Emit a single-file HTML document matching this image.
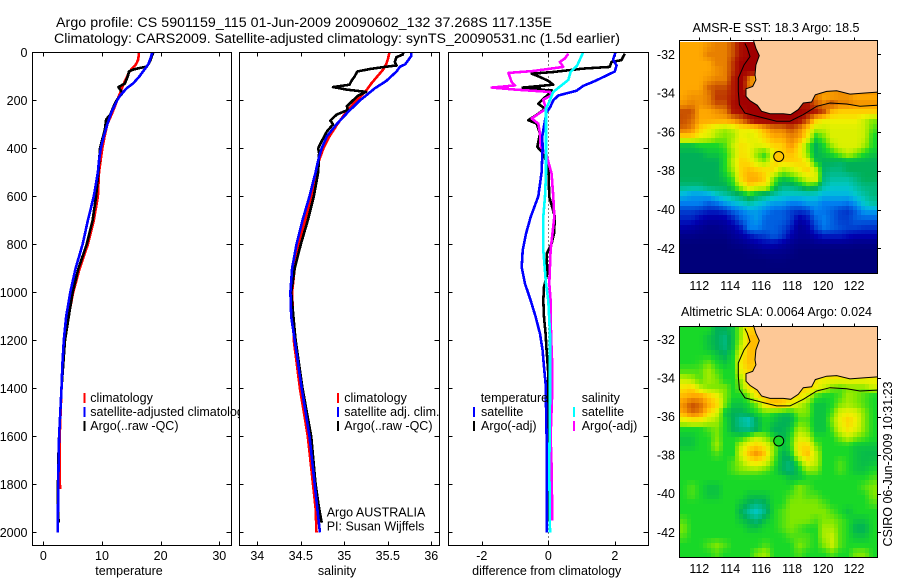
<!DOCTYPE html>
<html lang="en">
<head>
<meta charset="utf-8">
<title>Argo profile CS 5901159_115</title>
<style>
html,body{margin:0;padding:0;background:#fff;width:900px;height:580px;overflow:hidden}
svg{display:block}
text{font-family:"Liberation Sans",sans-serif;font-size:12.5px;fill:#000}
.t{font-size:14.2px}
</style>
</head>
<body>
<svg id="fig" xmlns="http://www.w3.org/2000/svg" width="900" height="580" viewBox="0 0 900 580">
<rect width="900" height="580" fill="#fff"/>
<g id="panels"></g>
<g id="maps"></g>
<text class="t" x="56" y="27" textLength="496">Argo profile: CS 5901159_115 01-Jun-2009 20090602_132 37.268S 117.135E</text>
<text class="t" x="54" y="43" textLength="566">Climatology: CARS2009. Satellite-adjusted climatology: synTS_20090531.nc (1.5d earlier)</text>
<text x="776" y="32" text-anchor="middle" textLength="167">AMSR-E SST: 18.3 Argo: 18.5</text>
<text x="776.5" y="316" text-anchor="middle" textLength="191">Altimetric SLA: 0.0064 Argo: 0.024</text>
<text transform="translate(892,464) rotate(-90)" text-anchor="middle" textLength="165">CSIRO 06-Jun-2009 10:31:23</text>
</svg>
<script>
// ---------- axis ticks ----------
const depthTicks = [0,200,400,600,800,1000,1200,1400,1600,1800,2000];
const tempTicks = [0,10,20,30];
const salTicks = [34,34.5,35,35.5,36];
const diffTicks = [-2,0,2];
const lonTicks = [112,114,116,118,120,122];
const latTicks = [-32,-34,-36,-38,-40,-42];

// ---------- temperature panel ----------
const climTempDepth = [0,30,50,80,120,150,200,250,300,350,400,500,600,700,800,900,1000,1100,1200,1400,1600,1700,1820];
const climTemp = [16.3,16.2,15.8,14.7,13.9,13.4,12.6,11.8,10.9,10.45,10.05,9.5,9.3,8.6,7.6,6.2,5.1,4.3,3.7,3.1,2.8,2.8,2.85];
const satTempDepth = [0,30,50,70,100,130,150,180,200,250,300,350,400,450,500,600,700,800,900,1000,1100,1200,1300,1400,1500,1600,1700,1800,1900,2000];
const satTemp = [18.6,18.2,17.9,17.3,16.4,15.3,14.2,13.1,12.6,11.6,10.9,10.3,9.8,9.5,9.3,8.6,7.6,6.7,5.5,4.6,3.9,3.5,3.25,3.1,2.9,2.7,2.6,2.55,2.5,2.45];
const argoTempDepth = [0,30,50,60,65,72,80,100,130,145,155,170,190,200,230,260,280,320,350,400,500,600,700,800,900,1000,1200,1400,1600,1700,1800,1900,1960];
const argoTemp = [18.75,18.3,17.9,17.6,16.5,15.3,14.6,14.4,13.9,12.8,13.07,13.5,12.8,12.5,11.9,11.4,10.7,10.5,10.2,9.66,9.4,9.0,8.4,7.4,6.0,5.0,3.7,3.1,2.7,2.55,2.5,2.5,2.6];

// ---------- salinity panel ----------
const climSalDepth = [0,30,50,70,100,130,160,200,250,300,350,400,450,500,600,700,800,900,1000,1100,1200,1400,1600,1800,1900,2000];
const climSal = [35.52,35.5,35.48,35.45,35.38,35.31,35.25,35.14,35.02,34.92,34.83,34.76,34.71,34.68,34.62,34.55,34.48,34.43,34.4,34.41,34.42,34.49,34.58,34.64,34.67,34.68];
const satSalDepth = [0,15,30,50,60,80,100,120,150,180,200,250,300,350,400,450,500,600,700,800,900,1000,1100,1200,1400,1600,1800,1900,2000];
const satSal = [35.77,35.77,35.74,35.7,35.64,35.6,35.54,35.48,35.35,35.25,35.18,35.04,34.91,34.8,34.74,34.7,34.67,34.6,34.52,34.45,34.4,34.38,34.39,34.43,34.51,34.6,34.66,34.69,34.72];
const argoSalDepth = [0,10,20,40,55,60,70,80,100,120,135,145,150,155,165,180,200,225,240,260,285,300,330,370,400,420,500,600,700,800,900,1000,1200,1400,1600,1800,1900,1960];
const argoSal = [35.68,35.67,35.6,35.58,35.6,35.48,35.29,35.15,35.12,35.08,35.06,34.87,34.95,35.02,35.25,35.16,35.1,35.03,35.04,34.91,34.84,34.87,34.8,34.74,34.7,34.71,34.7,34.65,34.58,34.5,34.43,34.39,34.44,34.52,34.62,34.67,34.71,34.74];

// ---------- difference panel ----------
const dSatTempDepth = [0,30,55,80,100,120,140,160,180,200,230,250,300,350,400,500,600,686,756,825,895,964,1034,1103,1173,1242,1311,1381,1600,2000];
const dSatTemp = [2.02,1.95,2.05,2.0,1.7,1.4,1.05,0.85,0.3,0.15,0.05,-0.05,-0.12,-0.18,-0.17,-0.2,-0.3,-0.53,-0.67,-0.77,-0.8,-0.7,-0.53,-0.38,-0.25,-0.17,-0.13,-0.08,-0.05,-0.05];
const dSatSalDepth = [0,55,82,115,143,165,206,234,300,505,600,686,825,964,1034,1173,1450,1728,2000];
const dSatSal = [1.05,0.87,0.67,0.6,0.35,0.15,0.03,-0.07,-0.07,-0.07,-0.1,-0.15,-0.15,-0.07,0,0.05,0.05,0.03,0.05];
const dArgoTempDepth = [6,33,40,61,68,82,89,103,119,135,147,149,156,158,169,200,214,235,256,283,297,339,394,422,478,603,686,756,797,839,922,978,1034,1103,1173,1242,1339,1450,1728,1950];
const dArgoTemp = [2.3,2.2,1.9,1.85,1.05,0.15,-0.5,-0.25,0,0.15,-0.77,-0.25,-0.55,0.1,0.05,-0.2,-0.3,-0.1,-0.3,-0.6,-0.35,-0.25,-0.33,-0.15,0,0.03,0.2,0.17,0.1,-0.05,-0.03,-0.13,-0.15,-0.13,-0.08,-0.05,0,-0.03,-0.03,-0.03];
const dArgoSalDepth = [6,26,40,61,78,86,124,138,147,156,165,179,197,235,276,297,339,394,429,506,603,686,825,964,1034,1173,1311,1408,1600,1728,1950];
const dArgoSal = [0.6,0.5,0.35,0.45,-0.45,-1.2,-1.1,-1,-1.7,-0.95,0.05,0.1,-0.15,-0.07,-0.5,-0.3,-0.25,-0.23,-0.05,0.1,0.15,0.18,0.07,0.03,0.07,0.08,0.12,0.12,0.07,0.1,0.12];

// ---------- map coastline (lon, lat) ----------
const coastLon = [115.49,115.66,115.88,115.66,115.6,115.66,115.45,115.02,115.02,115.28,115.75,116.03,116.57,117.43,117.91,118.4,118.72,119.26,119.5,120.23,120.88,121.74,122.6,123.51];
const coastLat = [-31.26,-31.69,-32.07,-32.55,-33.06,-33.32,-33.66,-33.78,-34.17,-34.39,-34.63,-34.94,-35.06,-35.06,-35.11,-34.85,-34.51,-34.46,-34.09,-33.91,-33.88,-34.05,-34,-33.95];
const shelfLon = [114.95,115.1,115.28,114.89,114.52,114.52,114.59,114.95,116.14,117,117.86,118.72,119.59,120.45,121.53,122.39,123.51];
const shelfLat = [-31.44,-31.69,-32.12,-32.55,-33.23,-33.91,-34.6,-35.03,-35.28,-35.45,-35.45,-35.11,-34.68,-34.51,-34.56,-34.68,-34.63];
const floatLon = [117.135];
const floatLat = [-37.268];
const floatSstLevel = [11.3];
const floatSlaLevel = [7];

// ---------- heatmap levels, 24 columns by 28 rows ----------
const N = null;
const sstLevels = [
[12,12,12,12.5,13,13,14,15.5,16,16,N,N,N,N,N,N,N,N,N,N,N,N,N,N],
[12,12,12,13,13,13,14,15.5,16,16,N,N,N,N,N,N,N,N,N,N,N,N,N,N],
[12,12,12,12,13,13,14.5,16,16,16,N,N,N,N,N,N,N,N,N,N,N,N,N,N],
[12,12,12,12,12.5,13,14.5,16,16,16,N,N,N,N,N,N,N,N,N,N,N,N,N,N],
[12,12,12,12.5,13,13,15,16,13,11,N,N,N,N,N,N,N,N,N,N,N,N,N,N],
[12,12,12,13.5,14,14,15,16,13,N,N,N,N,N,N,N,N,N,N,N,N,N,N,N],
[12,12.5,12.5,13,14.5,14.5,15,16,16,N,N,N,N,N,N,N,13,12,12,12.5,12.5,12,12,12],
[12.5,13,12.5,13,14,14,15.5,16,16,16,N,N,N,N,15,15,14,13,14,13,13,12.5,12.5,12.5],
[14,14,12,12,12.5,13,15,15.5,16,16,16,16,16,16,16,15.5,15,14,11.5,11,11,11,11,11],
[14,13.5,12,12,12,12,12.5,13.5,15,16,16,16,16,16,15.5,14,11,10,10,10,10,10,9,8],
[13.5,13,11,10,9,8.5,9,10,10,10.5,12,13,13,14,13,11,9,9,9.5,9.5,9.5,9.5,9,7.5],
[11,11,10,9.5,8.5,8,8.5,10,9.5,10,11,12,12,13,12.5,10.5,7,8,9.5,9.5,9.5,9.5,9,7],
[6.5,6.5,7,7,7,7.5,9,10.5,10,9.5,10,11,11,12.5,11,8,6,7,8.5,9.5,9.5,9.5,8.5,7],
[6,6,6,6.5,6.5,7,8.5,10.5,10,8,7,10,11,11.5,10.5,8,6,6.5,7,8,9,8,7,6.5],
[6,6,6,6,6,7,9,11,10.5,9,8,11,11,11,11,10,6.5,6,6,5.8,6,6,6,6],
[6,6,6,6,6,7,8.5,11,11.5,11,10.5,10.5,8.5,9,10,11,9,5.8,5.5,5.5,6,6,6,6],
[6,6,6,6,6,6.5,7.5,11,12,12,11,8,6.5,7,8,9.5,10,5.5,5,5,5,5.5,6,6],
[5.5,5.5,5.5,6,6,6,7,9,11,10,10,7,5.5,5.5,6,7,6.5,5,4.5,4.5,4.5,5,5.5,5.5],
[4,3.5,3.5,3.7,4.5,5,5.5,6,7,6,5.5,5,4.5,4.5,4.5,4.5,4.5,4,4,4,4,4.5,5,5.5],
[3,3,3,2.5,2.8,3.5,4,4.5,5,4.5,4,3.5,3.5,3,3,3.5,3.5,3,3,3,2.8,3.5,4.5,5],
[2,2,1.8,1.5,1.5,1.8,2.5,3,3.5,3.5,3,2.5,2.5,2,1.8,2,3,2.8,2.5,2,1.8,2.5,3.5,3.5],
[1.5,1.5,1,0.7,0.7,0.8,1.5,2.5,3,3.5,2.5,2.5,2.5,2,0.8,1.2,2.5,3,2.5,2,2,2.5,2.5,2.5],
[0.8,0.7,0.5,0.3,0.3,0.5,0.8,1.5,3,3,2.5,2.5,2.2,1.5,0.5,0.7,2,2.8,2.5,2.2,2,2,1.8,1.8],
[0.3,0.3,0.2,0.2,0.2,0.2,0.5,0.8,1.3,1.8,2,2.5,2,1,0.5,0.5,1,1.5,1.5,1.5,1.2,1,1,1],
[0,0,0,0,0,0,0.2,0.3,0.5,0.7,1,1,0.7,0.4,0.2,0.2,0.3,0.3,0.3,0.3,0.3,0.2,0.2,0.2],
[0,0,0,0,0,0,0,0,0.1,0.2,0.3,0.3,0.3,0.2,0,0,0,0,0,0,0,0,0,0],
[0,0,0,0,0,0,0,0,0,0,0,0.1,0.1,0,0,0,0,0,0,0,0,0,0,0],
[0,0,0,0,0,0,0,0,0,0,0,0,0,0,0,0,0,0,0,0,0,0,0,0]
];
const slaLevels = [
[7,7,7,7,6,6,6.5,8.5,11,11,N,N,N,N,N,N,N,N,N,N,N,N,N,N],
[7,7,7,6.5,6,5.5,6.5,8.5,11.5,11.5,N,N,N,N,N,N,N,N,N,N,N,N,N,N],
[7,7,7,6.5,6,5.5,6.5,9,11.5,11.5,N,N,N,N,N,N,N,N,N,N,N,N,N,N],
[7,7,7,7,6.5,6,7,10,11.5,11.5,N,N,N,N,N,N,N,N,N,N,N,N,N,N],
[7,7,7.2,7.8,7,6.5,7,10.5,11.5,11,N,N,N,N,N,N,N,N,N,N,N,N,N,N],
[7.5,7.5,7.5,8.5,7.5,7,7,10,11,N,N,N,N,N,N,N,N,N,N,N,N,N,N,N],
[9,8.5,7.5,8.5,8,7,7,8.5,11,11,N,N,N,N,N,N,10.5,10,10,10,10,10,10,10],
[10.5,11,9,8,8,8,7,8,10.5,11,11,N,N,N,11,11,10,9,8,7.5,8,8,8,9],
[11.5,12,12,11,10,8,7,7,8,10.5,11.5,11.5,11,11,10.5,9.5,7.5,7,7,7.5,8.5,8,7.5,7],
[12.5,14,13.5,12,11,8,6.5,6.5,7,8,10.5,11.5,11.5,10,9,8,6.5,6.5,7,8,8.5,8,7.5,7],
[12,13.5,13,11,9.5,6.5,6,6,6.5,7,7.5,7,6.5,6.5,8,8,6.5,6.5,7.5,9.5,10,9.5,8,7],
[9.5,10,10,9,8.5,7,6,5,4.5,6,7,6.5,6,6,7.5,7.5,6.5,6.5,8,10,11,10,8,7],
[7,7,7,7.5,8,7,6,5.5,5.3,6,7,6,6,6.5,8.5,8,6.5,6.5,7.5,9.5,10.5,9.5,8,7],
[6.5,6.5,7,7,8,7,7,7,8,9,8,7,6,7,9.5,9,7,7,7,8,9,8,7.5,7],
[6.5,6.5,7,7,8.5,7,7,9,10.5,11,10,8,6.5,7,10.5,11,8,7,7,7,7,6.5,6.5,6.5],
[7,7,7,7,7.5,7,7,9.5,11.5,12.5,11,8,6,6.5,10,11.5,9,7,7,7,7,6.5,6.3,6.3],
[7,7,7,7,7,7,7.5,8.5,10,10.5,9.5,7.5,6,5.5,7.5,10,9,7,7,7.5,7,6.5,6.3,6.5],
[7,7,7,7,7,7,7.5,8,8,8,7.5,7,6,5.5,6.5,8,8,7,7,7.5,7,6.5,6.5,7],
[7,7,7,7,7,7,7,7,7,7,7,7,7,6.5,6.5,7,7,7,7,7,7,7,7,7.5],
[7,7.5,7,6.5,6.5,7,7,7,7,7,7,7,7,7,8,7.5,7,7,7,7,7,7,7.5,8],
[7,7.5,7,6.5,6.5,7,7,7,6.5,6.5,6.5,7,7,7.5,8,7.5,7.5,7,7,7,7,7,7,8],
[7,7,7,7,7,7,7,6.5,6,5.5,6,7,7,8,8,8,8,7.5,7,7,7,7,7,7.5],
[7,7,7,7,7,7,7,6,5,4.5,5.5,7,7.5,8,8,8,8,8,7.5,7,6.5,7,7,7],
[7.5,7,7,7,7,7,7,6.5,6,5.5,6.5,7,7.5,8,8,8,7.5,8,8,7.5,7,6.5,6.5,7],
[8,7,7,7,7,7,7,7,6.5,6.5,7,7,7.5,8,7.5,7,7,8.5,8.5,7.5,7,6,6,7],
[7.5,7,7,7,7,7,7,7,7,7,7,7,7,7.5,7.5,7.5,7,8.5,9,7.5,7,6.5,6.5,7],
[7,7,7,7.5,8,7.5,7,7,7,7,7.5,7,7,7,8,7.5,7,8,9,7.5,7,7,7,7],
[7,7,7,7,7.5,7,7,7,7,8,8.5,7,7,7,7.5,7,7,7,7.5,7,7,8,8,7]
];

// ---------- drawing ----------
const SVGNS = 'http://www.w3.org/2000/svg';
const panelsG = document.getElementById('panels');
const mapsG = document.getElementById('maps');
const colorStops = [[0,'#00007a'],[1,'#0000b0'],[2,'#0040d0'],[3,'#0080f0'],[4,'#00b8e0'],[4.5,'#00c8c8'],[5,'#00c0a0'],[6,'#00b058'],[7,'#18d828'],[8,'#80e800'],[9,'#c8f000'],[10,'#f0f000'],[11,'#ffd000'],[12,'#ffa800'],[13,'#e88000'],[14,'#c85000'],[15,'#b01800'],[16,'#a00000']];

function hexPart(h,i){return parseInt(h.substr(1+2*i,2),16);}
function levelColor(v){
  if(v<=0)return colorStops[0][1];
  for(let i=1;i<colorStops.length;i++){
    if(v<=colorStops[i][0]){
      const a=colorStops[i-1],b=colorStops[i],t=(v-a[0])/(b[0]-a[0]);
      const c=[0,1,2].map(k=>Math.round(hexPart(a[1],k)+(hexPart(b[1],k)-hexPart(a[1],k))*t));
      return 'rgb('+c.join(',')+')';
    }
  }
  return colorStops[colorStops.length-1][1];
}
function make(tag,parent,name){
  const el=document.createElementNS(SVGNS,tag);
  
  
  parent.appendChild(el);
  return el;
}
function label(parent,name,x,y,str,anchor){
  const t=make('text',parent,name);
  t.setAttribute('x',x);
  t.setAttribute('y',y);
  if(anchor)t.setAttribute('text-anchor',anchor);
  t.textContent=str;
  return t;
}
function seg(parent,name,x1,y1,x2,y2,color,w){
  const l=make('line',parent,name);
  l.setAttribute('x1',x1);
  l.setAttribute('y1',y1);
  l.setAttribute('x2',x2);
  l.setAttribute('y2',y2);
  l.setAttribute('stroke',color||'#000');
  l.setAttribute('stroke-width',w||1);
  l.setAttribute('shape-rendering','crispEdges');
  return l;
}
const depthY = d => 52.3 + d*0.24;
const TOP = 52.5, BOTTOM = 545.5;

function panel(name,left,right,xScale,xTicks,xLabel,xLabelX,showDepth){
  const g=make('g',panelsG,name);
  const bg=make('rect',g,name+'-background');
  bg.setAttribute('x',left);
  bg.setAttribute('y',TOP);
  bg.setAttribute('width',right-left);
  bg.setAttribute('height',BOTTOM-TOP);
  bg.setAttribute('fill','#fff');
  xTicks.forEach(v=>{
    const x=Math.round(xScale(v))+0.5;
    seg(g,name+'-x-tick-top',x,TOP,x,TOP+4);
    seg(g,name+'-x-tick-bottom',x,BOTTOM,x,BOTTOM-4);
    label(g,name+'-x-tick-label',xScale(v),560,String(v),'middle');
  });
  depthTicks.forEach(d=>{
    const y=Math.round(depthY(d))+0.5;
    seg(g,name+'-y-tick-left',left,y,left+4,y);
    seg(g,name+'-y-tick-right',right,y,right-5,y);
    if(showDepth)label(g,'depth-tick-label',27.5,y+4.5,String(d),'end');
  });
  label(g,name+'-axis-title',xLabelX,575,xLabel,'middle');
  return g;
}
function frame(g,name,left,right){
  const f=make('rect',g,name+'-frame');
  f.setAttribute('x',left);
  f.setAttribute('y',TOP);
  f.setAttribute('width',right-left);
  f.setAttribute('height',BOTTOM-TOP);
  f.setAttribute('fill','none');
  f.setAttribute('stroke','#000');
  f.setAttribute('stroke-width',1);
  f.setAttribute('shape-rendering','crispEdges');
}
function series(g,name,xScale,values,depths,color,w){
  const p=make('polyline',g,name);
  p.setAttribute('points',values.map((v,i)=>xScale(v).toFixed(1)+','+depthY(depths[i]).toFixed(1)).join(' '));
  p.setAttribute('fill','none');
  p.setAttribute('stroke',color);
  p.setAttribute('stroke-width',w||2.6);
  p.setAttribute('stroke-linejoin','round');
  p.setAttribute('shape-rendering','crispEdges');
  return p;
}
function legendRow(g,name,barX,textX,y,str,color){
  if(color)seg(g,name+'-swatch',barX,y-9,barX,y+1,color,2);
  label(g,name+'-label',textX,y,str);
}

// temperature
const xTemp = v => 43.3 + v*5.867;
const p1 = panel('temperature-panel',32.5,231.5,xTemp,tempTicks,'temperature',129,true);
series(p1,'temperature-climatology-line',xTemp,climTemp,climTempDepth,'#ff0000');
series(p1,'temperature-argo-line',xTemp,argoTemp,argoTempDepth,'#000000');
series(p1,'temperature-satellite-line',xTemp,satTemp,satTempDepth,'#0000ff');
legendRow(p1,'temperature-legend-climatology',84.5,90.3,402,'climatology','#ff0000');
legendRow(p1,'temperature-legend-satellite',84.5,90.3,416,'satellite-adjusted climatology','#0000ff');
legendRow(p1,'temperature-legend-argo',84.5,90.3,430,'Argo(..raw -QC)','#000000');
frame(p1,'temperature-panel',32.5,231.5);

// salinity
const xSal = v => 257.3 + (v-34)*87;
const p2 = panel('salinity-panel',239.5,439.5,xSal,salTicks,'salinity',337,false);
series(p2,'salinity-climatology-line',xSal,climSal,climSalDepth,'#ff0000');
series(p2,'salinity-argo-line',xSal,argoSal,argoSalDepth,'#000000');
series(p2,'salinity-satellite-line',xSal,satSal,satSalDepth,'#0000ff');
legendRow(p2,'salinity-legend-climatology',338,344.3,402,'climatology','#ff0000');
legendRow(p2,'salinity-legend-satellite',338,344.3,416,'satellite adj. clim.','#0000ff');
legendRow(p2,'salinity-legend-argo',338,344.3,430,'Argo(..raw -QC)','#000000');
label(p2,'argo-country-label',326.7,516.7,'Argo AUSTRALIA');
label(p2,'principal-investigator-label',326.7,530.7,'PI: Susan Wijffels');
frame(p2,'salinity-panel',239.5,439.5);

// difference
const xDiff = v => 548.3 + v*33.25;
const p3 = panel('difference-panel',448.5,648.5,xDiff,diffTicks,'difference from climatology',546.7,false);
const zero = seg(p3,'zero-reference-line',548.5,TOP,548.5,BOTTOM);
zero.setAttribute('stroke-dasharray','1 3');
series(p3,'difference-argo-temperature-line',xDiff,dArgoTemp,dArgoTempDepth,'#000000');
series(p3,'difference-argo-salinity-line',xDiff,dArgoSal,dArgoSalDepth,'#ff00ff');
series(p3,'difference-satellite-temperature-line',xDiff,dSatTemp,dSatTempDepth,'#0000ff');
series(p3,'difference-satellite-salinity-line',xDiff,dSatSal,dSatSalDepth,'#00ffff');
legendRow(p3,'difference-legend-temperature-heading',474,480.7,402,'temperature',null);
legendRow(p3,'difference-legend-temperature-satellite',474,481,416,'satellite','#0000ff');
legendRow(p3,'difference-legend-temperature-argo',474,481,430,'Argo(-adj)','#000000');
legendRow(p3,'difference-legend-salinity-heading',574,581.7,402,'salinity',null);
legendRow(p3,'difference-legend-salinity-satellite',574,581.7,416,'satellite','#00ffff');
legendRow(p3,'difference-legend-salinity-argo',574,581.7,430,'Argo(-adj)','#ff00ff');
frame(p3,'difference-panel',448.5,648.5);

// maps: each level value is shaded smoothly across its neighbours on a 50x48 pixel-block raster
const lonMin = 110.7, lonMax = 123.5;
const blockCols = 50, blockRows = 48;
const xLon = lon => 699.3 + (lon-112)*15.47;
function levelAt(levels,col,row){
  const r=levels[Math.max(0,Math.min(levels.length-1,row))];
  let c=Math.max(0,Math.min(r.length-1,col));
  while(r[c]===null&&c>0)c--;
  return r[c];
}
function sampleLevel(levels,u,v){
  const c0=Math.floor(u),r0=Math.floor(v),fu=u-c0,fv=v-r0;
  const top=levelAt(levels,c0,r0)*(1-fu)+levelAt(levels,c0+1,r0)*fu;
  const bot=levelAt(levels,c0,r0+1)*(1-fu)+levelAt(levels,c0+1,r0+1)*fu;
  return top*(1-fv)+bot*fv;
}
function drawMap(name,levels,gridTopLat,latBottom,yLat,top,bottom,tickLabelY,floatLevel){
  const g=make('g',mapsG,name);
  const cols=levels[0].length,rows=levels.length;
  const dLon=(lonMax-lonMin)/blockCols,dLat=(gridTopLat-latBottom)/blockRows;
  for(let j=0;j<blockRows;j++){
    for(let i=0;i<blockCols;i++){
      const u=(i+0.5)/blockCols*cols-0.5,v=(j+0.5)/blockRows*rows-0.5;
      const x0=Math.round(xLon(lonMin+i*dLon)),x1=Math.round(xLon(lonMin+(i+1)*dLon));
      const y0=Math.round(yLat(gridTopLat-j*dLat)),y1=Math.round(yLat(gridTopLat-(j+1)*dLat));
      const c=make('rect',g,name+'-cell');
      c.setAttribute('x',x0);
      c.setAttribute('y',y0);
      c.setAttribute('width',x1-x0);
      c.setAttribute('height',y1-y0);
      c.setAttribute('fill',levelColor(sampleLevel(levels,u,v)));
      c.setAttribute('shape-rendering','crispEdges');
    }
  }
  const land=make('polygon',g,name+'-land');
  const pts=coastLon.map((lo,i)=>xLon(lo).toFixed(1)+','+yLat(coastLat[i]).toFixed(1));
  pts.push(xLon(lonMax).toFixed(1)+','+top);
  pts.push(xLon(coastLon[0]).toFixed(1)+','+top);
  land.setAttribute('points',pts.join(' '));
  land.setAttribute('fill','#fdc896');
  const coast=make('polyline',g,name+'-coastline');
  coast.setAttribute('points',coastLon.map((lo,i)=>xLon(lo).toFixed(1)+','+yLat(coastLat[i]).toFixed(1)).join(' '));
  coast.setAttribute('fill','none');
  coast.setAttribute('stroke','#000');
  coast.setAttribute('stroke-width',1);
  const shelf=make('polyline',g,name+'-shelf-contour');
  shelf.setAttribute('points',shelfLon.map((lo,i)=>xLon(lo).toFixed(1)+','+yLat(shelfLat[i]).toFixed(1)).join(' '));
  shelf.setAttribute('fill','none');
  shelf.setAttribute('stroke','#000');
  shelf.setAttribute('stroke-width',1);
  const dot=make('circle',g,name+'-float-marker');
  dot.setAttribute('cx',xLon(floatLon[0]));
  dot.setAttribute('cy',yLat(floatLat[0]));
  dot.setAttribute('r',5);
  dot.setAttribute('fill',levelColor(floatLevel));
  dot.setAttribute('stroke','#000');
  dot.setAttribute('stroke-width',1);
  const border=make('rect',g,name+'-frame');
  border.setAttribute('x',679.5);
  border.setAttribute('y',top+0.5);
  border.setAttribute('width',198);
  border.setAttribute('height',bottom-top);
  border.setAttribute('fill','none');
  border.setAttribute('stroke','#000');
  border.setAttribute('shape-rendering','crispEdges');
  lonTicks.forEach(lo=>{
    const x=Math.round(xLon(lo))+0.5;
    seg(g,name+'-lon-tick',x,top+0.5,x,top-2.5);
    label(g,name+'-lon-label',xLon(lo),tickLabelY,String(lo),'middle');
  });
  latTicks.forEach(la=>{
    const y=Math.round(yLat(la))+0.5;
    seg(g,name+'-lat-tick',877.5,y,881,y);
    label(g,name+'-lat-label',675,yLat(la)+4.5,String(la),'end');
  });
}
const ySst = la => 54.3 + (-32-la)*19.4;
const ySla = la => 339.3 + (-32-la)*19.3;
drawMap('sst-map',sstLevels,-31.37,-43.27,ySst,40,273,290,floatSstLevel[0]);
drawMap('sla-map',slaLevels,-31.3,-43.3,ySla,326,557,573,floatSlaLevel[0]);
// white strip above the SST grid
const strip=make('rect',mapsG,'sst-map-no-data-strip');
strip.setAttribute('x',680);
strip.setAttribute('y',41);
strip.setAttribute('width',xLon(coastLon[0])-684);
strip.setAttribute('height',1);
strip.setAttribute('fill','#fff');
</script>
</body>
</html>
